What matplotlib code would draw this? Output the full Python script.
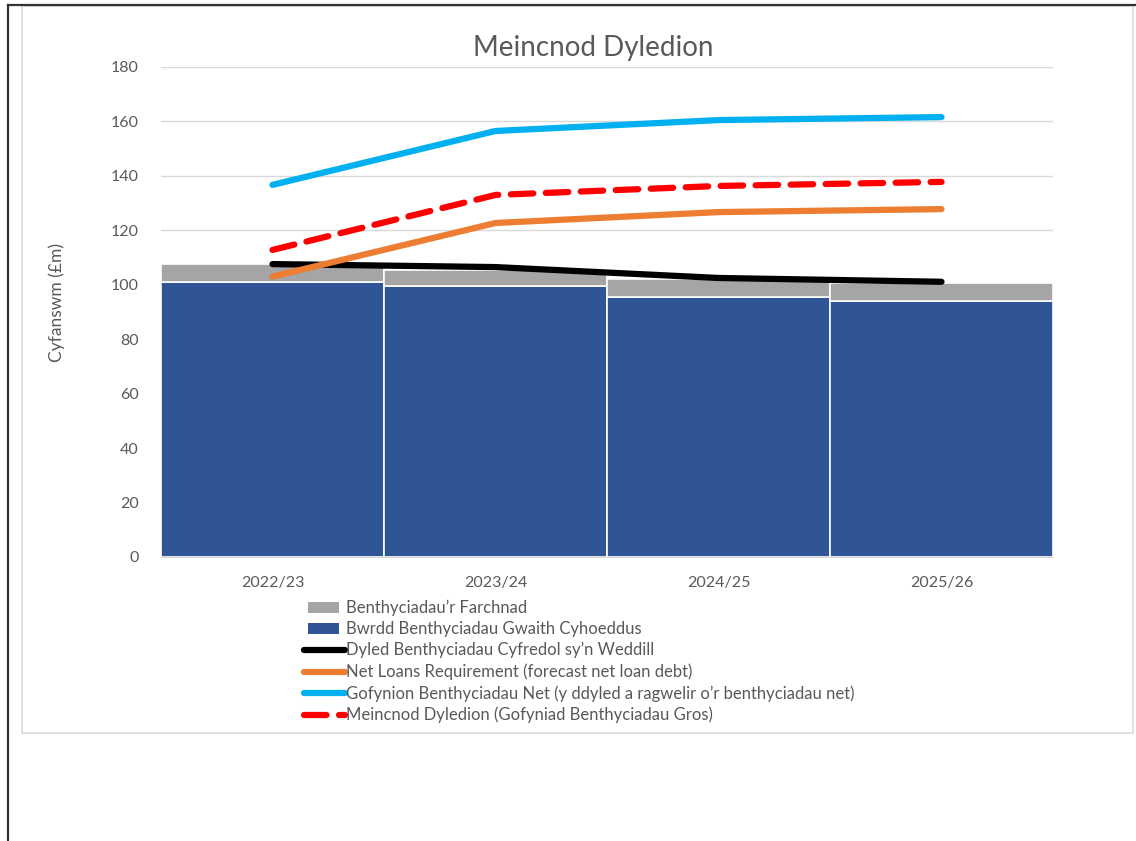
import matplotlib
matplotlib.use("Agg")
import matplotlib.pyplot as plt
from matplotlib.lines import Line2D
from matplotlib.patches import Patch, Rectangle
from matplotlib.legend_handler import HandlerPatch
import numpy as np

plt.rcParams['font.family'] = ['Lato', 'DejaVu Sans']

categories = ['2022/23', '2023/24', '2024/25', '2025/26']
pwlb = [101.1, 99.6, 95.5, 94.2]
market = [6.4, 5.9, 6.6, 6.6]
remaining_debt = [107.6, 106.5, 102.5, 101.1]
net_loans_req = [103.0, 122.7, 126.7, 127.8]
net_borrowing_req = [136.7, 156.5, 160.5, 161.6]
benchmark = [112.8, 133.0, 136.3, 137.8]
yticks = [0, 20, 40, 60, 80, 100, 120, 140, 160, 180]

labels = ["Benthyciadau\u2019r Farchnad",
          "Bwrdd Benthyciadau Gwaith Cyhoeddus",
          "Dyled Benthyciadau Cyfredol sy\u2019n Weddill",
          "Net Loans Requirement (forecast net loan debt)",
          "Gofynion Benthyciadau Net (y ddyled a ragwelir o\u2019r benthyciadau net)",
          "Meincnod Dyledion (Gofyniad Benthyciadau Gros)"]

C_GREY = '#a5a5a5'
C_BLUE = '#2f5597'
C_BLACK = '#000000'
C_ORANGE = '#ed7d31'
C_LBLUE = '#00b0f0'
C_RED = '#ff0000'
TXT = '#595959'

W, H = 1136, 841
fig = plt.figure(figsize=(W/100, H/100), dpi=100)

def fx(px): return px / W
def fy(py): return 1 - py / H

# borders
fig.add_artist(Rectangle((fx(22), fy(733)), fx(1133) - fx(22), fy(6) - fy(733),
                         transform=fig.transFigure, fill=False, edgecolor='#d9d9d9', lw=1.2))
fig.add_artist(Line2D([fx(7.5), fx(7.5)], [0, fy(5)], transform=fig.transFigure, color='#333333', lw=1.6))
fig.add_artist(Line2D([fx(7.5), 1], [fy(5), fy(5)], transform=fig.transFigure, color='#333333', lw=1.6))

ax = fig.add_axes([fx(161), fy(557), fx(1053) - fx(161), fy(67) - fy(557)])
x = np.arange(len(categories))
ax.bar(x, pwlb, width=1.0, color=C_BLUE, edgecolor='white', linewidth=1.2, zorder=2)
ax.bar(x, market, bottom=pwlb, width=1.0, color=C_GREY, edgecolor='white', linewidth=1.2, zorder=2)

lw = 4.5
DASH = (3.6, 2.0)
ax.plot(x, remaining_debt, color=C_BLACK, lw=lw, solid_capstyle='round', zorder=3)
ax.plot(x, net_loans_req, color=C_ORANGE, lw=lw, solid_capstyle='round', zorder=4)
ax.plot(x, net_borrowing_req, color=C_LBLUE, lw=lw, solid_capstyle='round', zorder=4)
ax.plot(x, benchmark, color=C_RED, lw=lw, dashes=DASH, dash_capstyle='round', zorder=5)

ax.set_xlim(-0.5, 3.5)
ax.set_ylim(0, 180)
ax.set_yticks(yticks)
ax.set_xticks(x)
ax.set_xticklabels(categories)
ax.tick_params(axis='both', length=0, colors=TXT, labelsize=11.5)
ax.tick_params(axis='y', pad=16)
ax.tick_params(axis='x', pad=14)
ax.grid(axis='y', color='#d9d9d9', lw=1.0, zorder=0)
ax.set_axisbelow(True)
for s in ['top', 'right', 'left']:
    ax.spines[s].set_visible(False)
ax.spines['bottom'].set_color('#d9d9d9')
ax.set_ylabel('Cyfanswm (\u00a3m)', color=TXT, fontsize=12.5)
ax.yaxis.set_label_coords((65 - 161) / 892, (557 - 302) / 490)

fig.text(fx(593), fy(48), 'Meincnod Dyledion', ha='center', va='center', fontsize=20, color=TXT)


def small_rect(legend, orig_handle, xdescent, ydescent, width, height, fontsize):
    return Rectangle((-xdescent + width * 0.11, -ydescent + height * 0.5 - 4.0),
                     width * 0.76, 8.0)

handles = [
    Patch(facecolor=C_GREY, edgecolor='none'),
    Patch(facecolor=C_BLUE, edgecolor='none'),
    Line2D([0], [0], color=C_BLACK, lw=lw, solid_capstyle='round'),
    Line2D([0], [0], color=C_ORANGE, lw=lw, solid_capstyle='round'),
    Line2D([0], [0], color=C_LBLUE, lw=lw, solid_capstyle='round'),
    Line2D([0], [0], color=C_RED, lw=lw, dashes=DASH, dash_capstyle='round'),
]
leg = fig.legend(handles, labels, loc='upper left', bbox_to_anchor=(fx(297), fy(593)),
                 frameon=False, fontsize=12, handlelength=2.45, handleheight=0.5,
                 handletextpad=0.1, labelspacing=0.30, borderaxespad=0,
                 handler_map={Patch: HandlerPatch(patch_func=small_rect)})
for t in leg.get_texts():
    t.set_color(TXT)

fig.savefig('out.png', dpi=100)
